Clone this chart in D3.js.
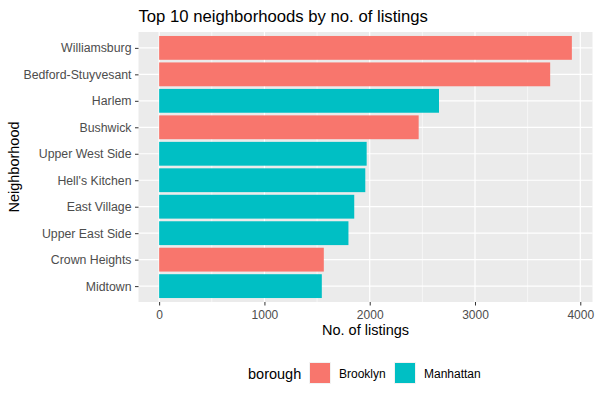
<!DOCTYPE html>
<html><head><meta charset="utf-8">
<script src="https://cdn.jsdelivr.net/npm/d3@7"></script>
<style>body{margin:0;background:#fff}svg{display:block;font-family:"Liberation Sans",Arial,sans-serif}</style>
</head><body><svg width="600" height="400"></svg>
<script>
const neighborhoods = ["Williamsburg","Bedford-Stuyvesant","Harlem","Bushwick","Upper West Side","Hell's Kitchen","East Village","Upper East Side","Crown Heights","Midtown"];
const listings = [3920,3714,2658,2465,1971,1958,1853,1798,1564,1545];
const boroughs = ["Brooklyn","Brooklyn","Manhattan","Brooklyn","Manhattan","Manhattan","Manhattan","Manhattan","Brooklyn","Manhattan"];
const boroughLevels = ["Brooklyn","Manhattan"];
const colors = ["#F8766D","#00BFC4"];
const xTicks = [0,1000,2000,3000,4000];
const xMinor = [500,1500,2500,3500];

const svg = d3.select("svg");
const L = 138.5, R = 592.5, T = 32, B = 302;
const maxV = d3.max(listings);
const x = d3.scaleLinear().domain([-0.05*maxV, 1.05*maxV]).range([L, R]);
const n = neighborhoods.length;
const y = d3.scaleLinear().domain([-0.6, n-1+0.6]).range([T, B]);
const color = d3.scaleOrdinal().domain(boroughLevels).range(colors);

svg.append("rect").attr("x",L).attr("y",T).attr("width",R-L).attr("height",B-T).attr("fill","#EBEBEB");
const g = svg.append("g");
g.selectAll(".mn").data(xMinor).join("line").attr("x1",d=>x(d)).attr("x2",d=>x(d)).attr("y1",T).attr("y2",B).attr("stroke","#fff").attr("stroke-width",0.6);
g.selectAll(".mj").data(xTicks).join("line").attr("x1",d=>x(d)).attr("x2",d=>x(d)).attr("y1",T).attr("y2",B).attr("stroke","#fff").attr("stroke-width",1.2);
g.selectAll(".my").data(neighborhoods).join("line").attr("x1",L).attr("x2",R).attr("y1",(d,i)=>y(i)).attr("y2",(d,i)=>y(i)).attr("stroke","#fff").attr("stroke-width",1.2);

svg.selectAll(".bar").data(neighborhoods).join("rect")
  .attr("x",x(0)).attr("y",(d,i)=>y(i-0.45)).attr("height",(d,i)=>y(i+0.45)-y(i-0.45))
  .attr("width",(d,i)=>x(listings[i])-x(0)).attr("fill",(d,i)=>color(boroughs[i]));

// x axis
const xa = svg.append("g").attr("transform",`translate(0,${B})`)
  .call(d3.axisBottom(x).tickValues(xTicks).tickSize(3.5).tickPadding(4.5).tickFormat(d3.format("d")));
xa.select(".domain").remove();
xa.selectAll("line").attr("stroke","#333");
xa.selectAll("text").attr("fill","#4D4D4D").style("font-size","12px");
// y axis
const ya = svg.append("g").attr("transform",`translate(${L},0)`)
  .call(d3.axisLeft(y).tickValues(d3.range(n)).tickSize(3.5).tickPadding(3.5).tickFormat(i=>neighborhoods[i]));
ya.select(".domain").remove();
ya.selectAll("line").attr("stroke","#333");
ya.selectAll("text").attr("fill","#4D4D4D").style("font-size","12.3px");

svg.append("text").attr("x",L).attr("y",22).text("Top 10 neighborhoods by no. of listings").style("font-size","16.7px").attr("fill","#000");
svg.append("text").attr("x",(L+R)/2).attr("y",335).attr("text-anchor","middle").text("No. of listings").style("font-size","14.5px");
svg.append("text").attr("transform",`translate(19,${(T+B)/2}) rotate(-90)`).attr("text-anchor","middle").text("Neighborhood").style("font-size","14.5px");

// legend
const lg = svg.append("g");
lg.append("text").attr("x",248).attr("y",379).text("borough").style("font-size","14.5px");
const keyX = [309, 394];
boroughLevels.forEach((b,i)=>{
  lg.append("rect").attr("x",keyX[i]).attr("y",362).attr("width",22).attr("height",22).attr("fill","#F2F2F2");
  lg.append("rect").attr("x",keyX[i]+1).attr("y",363).attr("width",20).attr("height",20).attr("fill",color(b));
  lg.append("text").attr("x",keyX[i]+30).attr("y",378).text(b).style("font-size","12px");
});
</script></body></html>
